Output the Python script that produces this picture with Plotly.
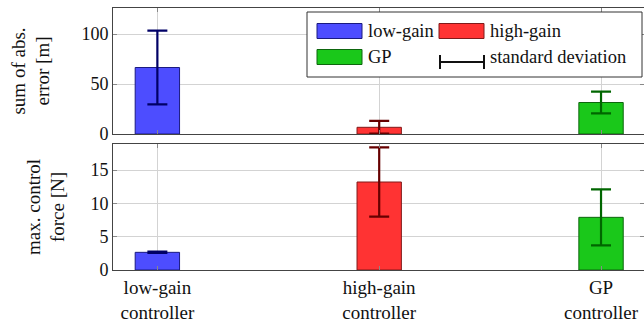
import plotly.graph_objects as go
from plotly.subplots import make_subplots

categories = ["low-gain<br>controller", "high-gain<br>controller", "GP<br>controller"]
legend_names = ["low-gain", "high-gain", "GP"]
error_mean = [66.5, 6.7, 31.5]
error_std = [36.8, 6.4, 10.8]
force_mean = [2.65, 13.2, 7.9]
force_std = [0.1, 5.2, 4.2]

fill_colors = ["#4d4dff", "#ff3333", "#1ac81a"]
dark_colors = ["#000066", "#660000", "#006600"]
edge_colors = ["#1a1a80", "#801a1a", "#0d660d"]

FONT = "Liberation Serif, DejaVu Serif, Times New Roman, serif"
W, H = 644, 322
L, R, T, B = 113, 0, 8, 52
PW, PH = W - L - R, H - T - B

fig = make_subplots(rows=2, cols=1, shared_xaxes=False, vertical_spacing=10 / PH)

for panel, (means, stds) in enumerate([(error_mean, error_std), (force_mean, force_std)], start=1):
    for i in range(3):
        fig.add_trace(go.Bar(
            x=[i], y=[means[i]], width=0.2,
            marker=dict(color=fill_colors[i], line=dict(color=edge_colors[i], width=1)),
            error_y=dict(type="data", array=[stds[i]], visible=True,
                         color=dark_colors[i], thickness=2.2, width=10),
            showlegend=False, hoverinfo="skip",
        ), row=panel, col=1)

axis_common = dict(showline=True, linecolor="#444", linewidth=1, mirror="allticks",
                   ticks="inside", ticklen=4, tickcolor="#888",
                   showgrid=True, gridcolor="#d3d3d3", gridwidth=1, zeroline=False,
                   tickfont=dict(family=FONT, size=18, color="#111"))

xr = [-0.2, 2 + 43 / 222]
fig.update_xaxes(range=xr, tickvals=[0, 1, 2], ticktext=["", "", ""], **axis_common, row=1, col=1)
fig.update_xaxes(range=xr, tickvals=[0, 1, 2], ticktext=categories, **axis_common, row=2, col=1)
fig.update_xaxes(tickfont=dict(family=FONT, size=19, color="#111"), row=2, col=1)
fig.update_yaxes(range=[0, 126], tickvals=[0, 50, 100], **axis_common, row=1, col=1,
                 title=dict(text="sum of abs.<br>error [m]", standoff=26,
                            font=dict(family=FONT, size=19, color="#111")))
fig.update_yaxes(range=[0, 18.9], tickvals=[0, 5, 10, 15], **axis_common, row=2, col=1,
                 title=dict(text="max. control<br>force [N]", standoff=20,
                            font=dict(family=FONT, size=19, color="#111")))

# manual legend (page pixel -> paper coords)
def px(x):
    return (x - L) / PW

def py(y):
    return (H - B - y) / PH

shapes = []
annotations = []
shapes.append(dict(type="rect", xref="paper", yref="paper",
                   x0=px(307), x1=px(642), y0=py(77), y1=py(12),
                   line=dict(color="#333", width=1), fillcolor="white", layer="above"))
entries = [(317, 31, 0), (439, 31, 1), (317, 57, 2)]
for x0, yc, i in entries:
    shapes.append(dict(type="rect", xref="paper", yref="paper",
                       x0=px(x0), x1=px(x0 + 45), y0=py(yc + 7.5), y1=py(yc - 7.5),
                       line=dict(color=edge_colors[i], width=1), fillcolor=fill_colors[i], layer="above"))
    annotations.append(dict(xref="paper", yref="paper", x=px(x0 + 49), y=py(yc),
                            text=legend_names[i], showarrow=False, xanchor="left", yanchor="middle",
                            font=dict(family=FONT, size=18.5, color="#111")))
# standard deviation symbol
ys = 62
shapes.append(dict(type="line", xref="paper", yref="paper", x0=px(440), x1=px(484), y0=py(ys), y1=py(ys),
                   line=dict(color="#111", width=2), layer="above"))
for xx in (440, 484):
    shapes.append(dict(type="line", xref="paper", yref="paper", x0=px(xx), x1=px(xx), y0=py(ys - 7), y1=py(ys + 7),
                       line=dict(color="#111", width=2), layer="above"))
annotations.append(dict(xref="paper", yref="paper", x=px(488), y=py(57),
                        text="standard deviation", showarrow=False, xanchor="left", yanchor="middle",
                        font=dict(family=FONT, size=18.5, color="#111")))

fig.update_layout(width=W, height=H, margin=dict(l=L, r=R, t=T, b=B),
                  plot_bgcolor="white", paper_bgcolor="white", barmode="overlay",
                  shapes=shapes, annotations=annotations,
                  font=dict(family=FONT, size=18, color="#111"))

fig.write_html("out.html",
               config={"displayModeBar": False, "staticPlot": True},
               post_script="document.body.style.margin='0';"
                           "document.documentElement.style.overflow='hidden';"
                           "document.body.style.overflow='hidden';")
